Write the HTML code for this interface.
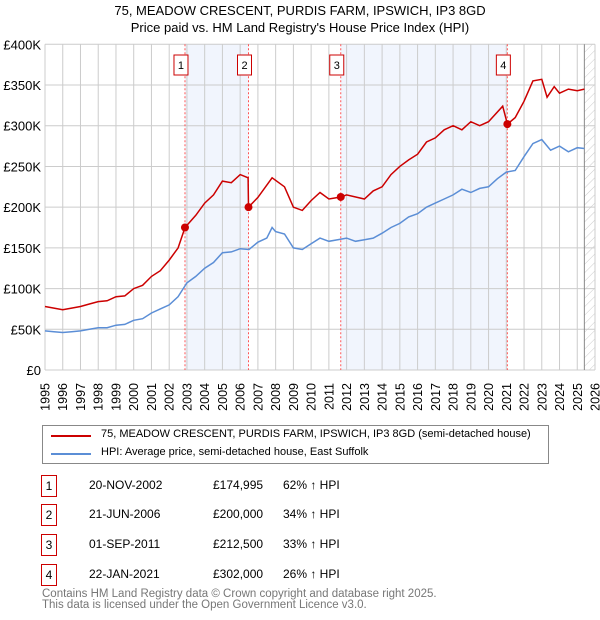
<!DOCTYPE html>
<html><head><meta charset="utf-8"><style>
body{margin:0;background:#fff;font-family:"Liberation Sans","DejaVu Sans",sans-serif;}
#wrap{position:relative;width:600px;height:620px;overflow:hidden}
.t{position:absolute;font-size:12px;color:#000;white-space:nowrap}
.box{position:absolute;border:1px solid #c00;width:14px;height:20px;text-align:center;font-size:12px;line-height:20px}
</style></head><body><div id="wrap">
<svg id="chart" width="600" height="420" style="position:absolute;left:0;top:0"></svg>
<div style="position:absolute;left:42px;top:425px;width:505px;height:37px;border:1px solid #888;">
 <div style="position:absolute;left:8px;top:9px;width:40px;height:2px;background:#c00"></div>
 <div class="t" style="left:58px;top:2px;font-size:11px">75, MEADOW CRESCENT, PURDIS FARM, IPSWICH, IP3 8GD (semi-detached house)</div>
 <div style="position:absolute;left:8px;top:27px;width:40px;height:2px;background:#5b8ed6"></div>
 <div class="t" style="left:58px;top:20px;font-size:11px">HPI: Average price, semi-detached house, East Suffolk</div>
</div>
<div id="tbl"></div>
<div class="t" style="left:42px;top:589px;color:#777;font-size:11.5px;line-height:11px">Contains HM Land Registry data © Crown copyright and database right 2025.<br>This data is licensed under the Open Government Licence v3.0.</div>
</div>
<script>
const hpiDates=[1995,1995.5,1996,1996.5,1997,1997.5,1998,1998.5,1999,1999.5,2000,2000.5,2001,2001.5,2002,2002.5,2003,2003.5,2004,2004.5,2005,2005.5,2006,2006.5,2007,2007.5,2007.8,2008,2008.5,2009,2009.5,2010,2010.5,2011,2011.5,2012,2012.5,2013,2013.5,2014,2014.5,2015,2015.5,2016,2016.5,2017,2017.5,2018,2018.5,2019,2019.5,2020,2020.5,2021,2021.5,2022,2022.5,2023,2023.5,2024,2024.5,2025,2025.4];
const hpiValues=[48,47,46,47,48,50,52,52,55,56,61,63,70,75,80,90,107,115,125,132,144,145,149,148,157,162,175,170,167,150,148,155,162,158,160,162,158,160,162,168,175,180,188,192,200,205,210,215,222,218,223,225,235,243,245,262,278,283,270,275,268,273,272];
const propDates=[1995,1995.5,1996,1996.5,1997,1997.5,1998,1998.5,1999,1999.5,2000,2000.5,2001,2001.5,2002,2002.5,2002.89,2003.5,2004,2004.5,2005,2005.5,2006,2006.45,2006.47,2007,2007.8,2008.5,2009,2009.5,2010,2010.5,2011,2011.67,2012,2013,2013.5,2014,2014.5,2015,2015.5,2016,2016.5,2017,2017.5,2018,2018.5,2019,2019.5,2020,2020.8,2021.06,2021.5,2022,2022.5,2023,2023.3,2023.7,2024,2024.5,2025,2025.4];
const propValues=[78,76,74,76,78,81,84,85,90,91,100,104,115,122,135,150,175,190,205,215,232,230,240,236,200,212,236,225,200,196,208,218,210,212.5,215,210,220,225,240,250,258,265,280,285,295,300,295,305,300,305,324,302,310,330,355,357,335,348,340,345,343,345];
const saleDates=[2002.89,2006.47,2011.67,2021.06];
const salePrices=[174995,200000,212500,302000];
const saleLabels=["20-NOV-2002","21-JUN-2006","01-SEP-2011","22-JAN-2021"];
const salePriceText=["£174,995","£200,000","£212,500","£302,000"];
const salePct=["62% ↑ HPI","34% ↑ HPI","33% ↑ HPI","26% ↑ HPI"];
const yTicks=[0,50,100,150,200,250,300,350,400];
const yTickLabels=["£0","£50K","£100K","£150K","£200K","£250K","£300K","£350K","£400K"];
const xTicks=[1995,1996,1997,1998,1999,2000,2001,2002,2003,2004,2005,2006,2007,2008,2009,2010,2011,2012,2013,2014,2015,2016,2017,2018,2019,2020,2021,2022,2023,2024,2025,2026];

const L=45,R=595,T=44.3,B=370;
const x=d=>L+(d-1995)/31*(R-L);
const y=v=>B-v/400*(B-T);
const NS="http://www.w3.org/2000/svg";
const svg=document.getElementById('chart');
function mk(tag,attrs,parent){const e=document.createElementNS(NS,tag);for(const k in attrs)e.setAttribute(k,attrs[k]);(parent||svg).appendChild(e);return e;}

let e;
e=mk('text',{x:300,y:15,'text-anchor':'middle','font-size':13});e.textContent="75, MEADOW CRESCENT, PURDIS FARM, IPSWICH, IP3 8GD";


e=mk('text',{x:300,y:32,'text-anchor':'middle','font-size':13});e.textContent="Price paid vs. HM Land Registry's House Price Index (HPI)";



[[0,1],[2,3]].forEach(([a,b])=>{const r=mk('rect',{x:x(saleDates[a]),y:T,width:x(saleDates[b])-x(saleDates[a]),height:B-T,fill:'#eef3fc',opacity:0.8});

});
const defs=mk('defs',{});const pat=mk('pattern',{id:'h',width:6,height:6,patternUnits:'userSpaceOnUse',patternTransform:'rotate(45)'},defs);
mk('line',{x1:0,y1:0,x2:0,y2:6,stroke:'#ccc','stroke-width':1},pat);
e=mk('rect',{x:x(2025.4),y:T,width:R-x(2025.4),height:B-T,fill:'url(#h)'});


yTicks.forEach((v,i)=>{const g=mk('line',{x1:L,x2:R,y1:y(v),y2:y(v),stroke:'#ccc'});


const t=mk('text',{x:L-4,y:y(v)+5,'text-anchor':'end','font-size':13});t.textContent=yTickLabels[i];

});
xTicks.forEach(d=>{const g=mk('line',{x1:x(d),x2:x(d),y1:T,y2:B,stroke:'#ccc'});


const t=mk('text',{x:0,y:0,'text-anchor':'end','font-size':12.5,transform:`translate(${(x(d)+4.5).toFixed(1)},${B+13}) rotate(-90)`});t.textContent=d;

});
e=mk('line',{x1:x(2025.4),x2:x(2025.4),y1:T,y2:B,stroke:'#888'});


saleDates.forEach((d,i)=>{const l=mk('line',{x1:x(d),x2:x(d),y1:T,y2:B,stroke:'#f55','stroke-dasharray':'2,2'});


const bx=x(d)-4;
const r=mk('rect',{x:bx-7,y:55,width:14,height:20,fill:'#fff',stroke:'#c00'});


const t=mk('text',{x:bx,y:69,'text-anchor':'middle','font-size':11});t.textContent=i+1;

});
function path(ds,vs){return ds.map((d,i)=>(i?'L':'M')+x(d).toFixed(1)+','+y(vs[i]).toFixed(1)).join('');}
e=mk('path',{d:path(hpiDates,hpiValues),fill:'none',stroke:'#5b8ed6','stroke-width':1.5});


e=mk('path',{d:path(propDates,propValues),fill:'none',stroke:'#c00','stroke-width':1.5});


saleDates.forEach((d,i)=>{const c=mk('circle',{cx:x(d),cy:y(salePrices[i]/1000),r:4,fill:'#c00'});

});

const tbl=document.getElementById('tbl');
const rowY=[475,504,534,564];
saleDates.forEach((d,i)=>{
 const b=document.createElement('div');b.className='box';b.style.left='41px';b.style.top=rowY[i]+'px';b.textContent=i+1;
 
 
 tbl.appendChild(b);
 [[89,saleLabels[i],'table-date'],[213,salePriceText[i],'table-price'],[283,salePct[i],'table-hpi-change']].forEach(([lx,txt,nm])=>{
  const c=document.createElement('div');c.className='t';c.style.left=lx+'px';c.style.top=(rowY[i]+3)+'px';c.textContent=txt;
  
  
  tbl.appendChild(c);});
});
</script></body></html>
